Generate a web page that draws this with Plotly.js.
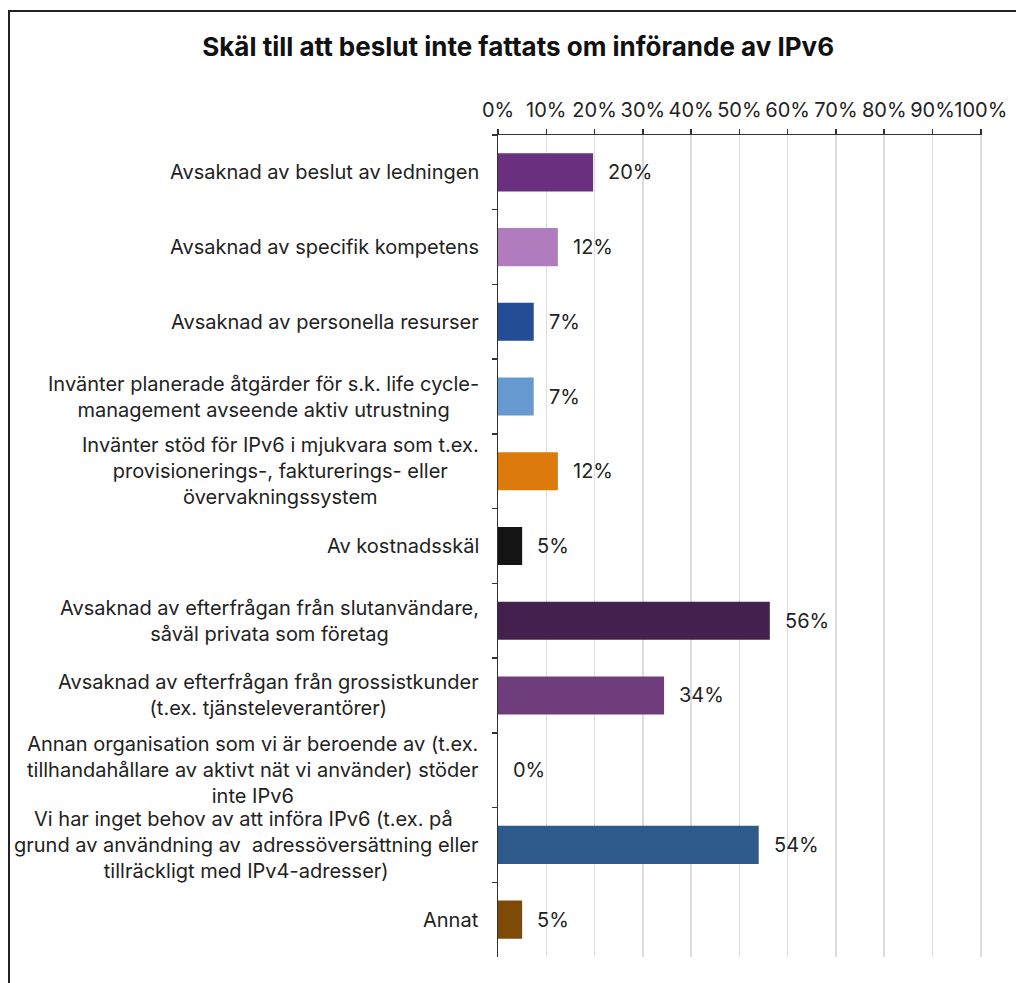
<!DOCTYPE html>
<html>
<head>
<meta charset="utf-8">
<script src="https://cdn.plot.ly/plotly-3.0.1.min.js"></script>
<style>
  html, body { margin: 0; padding: 0; background: #fff; }
  #frame { position: absolute; left: 8px; top: 10px; width: 1100px; height: 1100px;
           border-left: 2px solid #222; border-top: 2px solid #222; }
  #chart { position: absolute; left: 0; top: 0; width: 1016px; height: 983px; }
</style>
</head>
<body>
<div id="frame"></div>
<div id="chart"></div>
<script>
const categories = [
  "Avsaknad av beslut av ledningen",
  "Avsaknad av specifik kompetens",
  "Avsaknad av personella resurser",
  "Invänter planerade åtgärder för s.k. life cycle-<br>management avseende aktiv utrustning",
  "Invänter stöd för IPv6 i mjukvara som t.ex.<br>provisionerings-, fakturerings- eller<br>övervakningssystem",
  "Av kostnadsskäl",
  "Avsaknad av efterfrågan från slutanvändare,<br>såväl privata som företag",
  "Avsaknad av efterfrågan från grossistkunder<br>(t.ex. tjänsteleverantörer)",
  "Annan organisation som vi är beroende av (t.ex.<br>tillhandahållare av aktivt nät vi använder) stöder<br>inte IPv6",
  "Vi har inget behov av att införa IPv6 (t.ex. på <br>grund av användning av  adressöversättning eller<br>tillräckligt med IPv4-adresser)",
  "Annat"
];
const values = [19.7, 12.4, 7.4, 7.4, 12.4, 5.0, 56.3, 34.4, 0, 54.0, 5.0];
const valueLabels = ["20%", "12%", "7%", "7%", "12%", "5%", "56%", "34%", "0%", "54%", "5%"];
const barColors = ["#6b2f7f", "#b07cbe", "#234d94", "#6699cf", "#dc7b0b", "#141414",
                   "#43204d", "#6f3c7c", "#888888", "#2d5a8a", "#7e4a07"];
const tickVals = [0, 10, 20, 30, 40, 50, 60, 70, 80, 90, 100];
const tickText = ["0%", "10%", "20%", "30%", "40%", "50%", "60%", "70%", "80%", "90%", "100%"];

const FONT = "Inter, 'Liberation Sans', Arial, sans-serif";
const TXT = "#222222";

const trace = {
  type: "bar",
  orientation: "h",
  x: values,
  y: categories,
  marker: { color: barColors },
  hoverinfo: "none"
};

const annotations = [];
categories.forEach((c, i) => {
  annotations.push({
    xref: "paper", x: 0, yref: "y", y: c,
    xanchor: "right", yanchor: "middle", xshift: -17,
    text: c, align: "center", showarrow: false,
    font: { family: FONT, size: 20, color: TXT }
  });
  annotations.push({
    xref: "x", x: values[i], yref: "y", y: c,
    xanchor: "left", yanchor: "middle", xshift: 13,
    text: valueLabels[i], showarrow: false,
    font: { family: FONT, size: 20, color: TXT }
  });
});

const layout = {
  width: 1016, height: 983,
  margin: { l: 498, r: 34, t: 135, b: 26 },
  paper_bgcolor: "rgba(0,0,0,0)",
  plot_bgcolor: "rgba(0,0,0,0)",
  showlegend: false,
  bargap: 0.49,
  title: {
    text: "<b>Skäl till att beslut inte fattats om införande av IPv6</b>",
    font: { family: FONT, size: 26, color: "#111111" },
    x: 0.51, xref: "container", xanchor: "center",
    y: 1 - 47 / 983, yref: "container", yanchor: "middle"
  },
  xaxis: {
    side: "top",
    range: [0, 100.25],
    tickvals: tickVals, ticktext: tickText,
    tickangle: 0,
    ticklabelstandoff: 4,
    showgrid: true, gridcolor: "#dcdcdc", gridwidth: 1.5,
    zeroline: false,
    showline: true, linecolor: "#333333", linewidth: 1.5,
    ticks: "outside", ticklen: 5, tickwidth: 1.5, tickcolor: "#333333",
    tickfont: { family: FONT, size: 20, color: TXT },
    fixedrange: true
  },
  yaxis: {
    type: "category",
    autorange: "reversed",
    showticklabels: false,
    tickson: "boundaries",
    ticks: "outside", ticklen: 5, tickwidth: 1.5, tickcolor: "#333333",
    showline: true, linecolor: "#333333", linewidth: 1.5,
    showgrid: false, zeroline: false,
    fixedrange: true
  },
  annotations: annotations
};

Plotly.newPlot("chart", [trace], layout, { displayModeBar: false, staticPlot: true });
</script>
</body>
</html>
